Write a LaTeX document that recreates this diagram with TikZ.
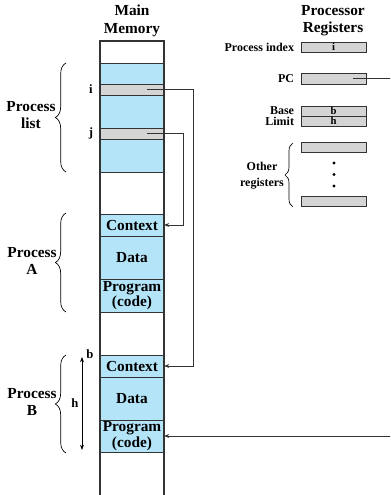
\documentclass[tikz,border=0pt]{standalone}
\usepackage{fontspec}
\setmainfont{Liberation Serif}
\usetikzlibrary{arrows.meta,decorations.pathreplacing}
\definecolor{memblue}{HTML}{B4E4F8}
\definecolor{reggray}{HTML}{D4D4D4}
\definecolor{edge}{HTML}{333333}
\tikzset{
  cell/.style={draw=edge, line width=0.6pt, minimum width=48pt, inner sep=0pt, outer sep=0pt,
    font=\bfseries\fontsize{11.5}{11.5}\selectfont, align=center},
  blue/.style={cell, fill=memblue},
  white/.style={cell, fill=white},
  gray/.style={cell, fill=reggray},
  reg/.style={draw=edge, line width=0.6pt, fill=reggray, minimum width=48.75pt, inner sep=0pt, outer sep=0pt,
    font=\bfseries\fontsize{8}{8}\selectfont},
  reglabel/.style={anchor=east, xshift=-5pt, inner sep=0pt, font=\bfseries\fontsize{9}{9}\selectfont},
  lbl/.style={align=center, inner sep=0pt, font=\bfseries\fontsize{11.5}{13}\selectfont},
  small/.style={inner sep=0pt, font=\bfseries\fontsize{9.5}{9.5}\selectfont},
  conn/.style={draw=edge, line width=0.7pt, -{Stealth[length=4pt,width=3pt]}},
  lbrace/.style={draw=black, line width=0.5pt, decorate, decoration={brace, amplitude=#1}},
  dot/.style={circle, fill=black, inner sep=0pt, minimum size=2.6pt},
}
\begin{document}
\begin{tikzpicture}[x=0.75pt,y=-0.75pt]
\useasboundingbox (0,0) rectangle (390,495);
\clip (0,0) rectangle (390,495);
% headers
\node[lbl] (hmem) at (132,21) {Main\\Memory};
\node[lbl] (hreg) at (333,21) {Processor\\Registers};
% memory cells
\node[white, minimum height=16.5pt] (m0) at (132,52) {};
\node[blue, minimum height=15.75pt] (b1) at (132,73.5) {};
\node[gray, minimum height=8.25pt] (i) at (132,89.5) {};
\node[blue, minimum height=24.75pt] (b2) at (132,111.5) {};
\node[gray, minimum height=8.25pt] (j) at (132,133.5) {};
\node[blue, minimum height=24.75pt] (b3) at (132,155.5) {};
\node[white, minimum height=31.5pt] (w1) at (132,193) {};
\node[blue, minimum height=16.5pt] (ctxA) at (132,225) {Context};
\node[blue, minimum height=32.25pt] (dataA) at (132,257.5) {Data};
\node[blue, minimum height=24.75pt] (progA) at (132,295.5) {Program\\(code)};
\node[white, minimum height=32.25pt] (w2) at (132,333.5) {};
\node[blue, minimum height=16.5pt] (ctxB) at (132,366) {Context};
\node[blue, minimum height=32.25pt] (dataB) at (132,398.5) {Data};
\node[blue, minimum height=24pt] (progB) at (132,436) {Program\\(code)};
\node[white, minimum height=42pt] (w3) at (132,480) {};
% outer border
\draw[edge, line width=1.6pt] (w3.south west) -- (m0.north west) -- (m0.north east) -- (w3.south east);
% labels i, j
\node[small] (li) at (91,89) {i};
\node[small] (lj) at (91,133) {j};
% braces left
\draw[lbrace=8pt] (66,172) -- (66,63);
\node[lbl] (plist) at (31,115) {Process\\list};
\draw[lbrace=8pt] (66,312) -- (66,213);
\node[lbl] (pA) at (32,261) {Process\\A};
\draw[lbrace=8pt] (66,453) -- (66,355);
\node[lbl] (pB) at (32,402) {Process\\B};
% b h arrow
\coordinate (ht) at (82,357);
\coordinate (hb) at (82,450);
\draw[line width=0.6pt, {Stealth[length=4pt,width=3pt]}-{Stealth[length=4pt,width=3pt]}] (ht) -- (hb);
\node[small] (lb) at (90,354) {b};
\node[small] (lh) at (75,403) {h};
% registers
\node[reg, minimum height=7.5pt] (pidx) at (333.5,47) {i};
\node[reglabel] (lpidx) at (pidx.west) {Process index};
\node[reg, minimum height=8.25pt] (pc) at (333.5,78.5) {};
\node[reglabel] (lpc) at (pc.west) {PC};
\node[reg, minimum height=7.5pt] (base) at (333.5,111) {b};
\node[reglabel] (lbase) at (base.west) {Base};
\node[reg, minimum height=7.5pt] (limit) at (333.5,121) {h};
\node[reglabel] (llimit) at (limit.west) {Limit};
\node[reg, minimum height=7pt] (o1) at (333.5,147.5) {};
\node[reg, minimum height=7pt] (o2) at (333.5,201.5) {};
\node[dot] (d1) at (334,163) {};
\node[dot] (d2) at (334,174.5) {};
\node[dot] (d3) at (334,186) {};
\draw[lbrace=6pt] (293,207) -- (293,143);
\node[align=center, inner sep=0pt, font=\bfseries\fontsize{9}{11.5}\selectfont] (lother) at (262,175.5) {Other\\registers};
% connectors
\coordinate (ri) at (193,0);
\coordinate (rj) at (183,0);
\coordinate (rpc) at (396,0);
\draw[conn] ([xshift=11.25pt]i.center) -- (i.center -| ri) |- (ctxB.east);
\draw[conn] ([xshift=11.25pt]j.center) -- (j.center -| rj) |- (ctxA.east);
\draw[conn] ([xshift=14.5pt]pc.center) -- (pc.center -| rpc) |- (progB.east);
\end{tikzpicture}
\end{document}
